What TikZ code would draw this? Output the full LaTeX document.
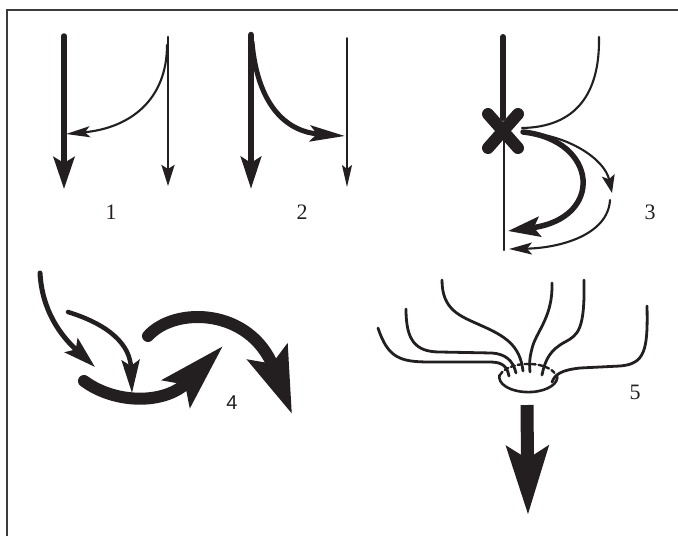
\documentclass[tikz,border=0pt]{standalone}
\usepackage{fontspec}
\setmainfont{Liberation Serif}
\newfontfamily\labsans{Liberation Sans}
\usepackage{tikz}
\usetikzlibrary{arrows.meta,calc}
\definecolor{inkblack}{RGB}{35,31,32}
\definecolor{framegray}{RGB}{60,60,60}

\begin{document}
\begin{tikzpicture}[
    x=1pt, y=-1pt,
    ink/.style={draw=inkblack, line cap=round, >=Stealth},
    lnhair/.style={ink, line width=2.1pt},
    lnmed/.style={ink, line width=2.8pt},
    lnbold/.style={ink, line width=5.5pt},
    lnheavy/.style={ink, line width=12pt},
    digit/.style={font=\fontsize{22}{24}\selectfont, text=inkblack, inner sep=0pt}
]
\useasboundingbox (0,0) rectangle (678,536);

% frame
\coordinate (fbl) at (7,536);
\coordinate (ftl) at (7,10);
\coordinate (ftr) at (678,10);
\draw[draw=framegray, line width=1.5pt] (fbl) -- (ftl) -- (ftr);

% Case 1
\coordinate (a1top) at (64,36);
\coordinate (a1tip) at (64,189);
\coordinate (b1top) at (168,37);
\coordinate (b1tip) at (168,186);
\coordinate (c1start) at (167,45);
\coordinate (c1tip) at (66,134);
\draw[lnbold, -{Stealth[length=32pt, width=21pt, inset=6pt]}] (a1top) -- (a1tip);
\draw[lnmed, -{Stealth[length=21pt, width=13pt, inset=4pt]}] (b1top) -- (b1tip);
\draw[lnhair, -{Stealth[length=24pt, width=11pt, inset=5pt]}] (c1start) .. controls (167,100) and (130,128) .. (c1tip);
\node[digit] (lab1) at (111,212) {1};

% Case 2
\coordinate (a2top) at (251,35);
\coordinate (a2tip) at (251,189);
\coordinate (b2top) at (347,38);
\coordinate (b2tip) at (347,187);
\coordinate (c2start) at (252,42);
\coordinate (c2tip) at (345,136);
\draw[ink, line width=6.5pt, -{Stealth[length=32pt, width=20pt, inset=6pt]}] (a2top) -- (a2tip);
\draw[ink, line width=1.8pt, -{Stealth[length=22pt, width=10pt, inset=4pt]}] (b2top) -- (b2tip);
\draw[lnbold, line width=5pt, -{Stealth[length=35pt, width=16pt, inset=7pt]}] (c2start) .. controls (258,110) and (290,132) .. (c2tip);
\node[digit] (lab2) at (302,212) {2};

% Case 3
\coordinate (a3top) at (503,37);
\coordinate (a3mid) at (503,118);
\coordinate (xc) at (504,131);
\coordinate (a3low) at (504,250);
\coordinate (b3top) at (599,37);
\coordinate (xr) at (522,128);
\coordinate (xr2) at (523,132);
\coordinate (c3tip) at (508,231);
\coordinate (d3tip) at (612,193);
\coordinate (e3start) at (610,200);
\coordinate (e3tip) at (509,249);
\draw[lnbold, line width=6pt] (a3top) -- (a3mid);
\draw[lnhair] (xc) -- (a3low);
\draw[ink, line width=12pt] ($(xc)+(-16,-17)$) -- ($(xc)+(14,17)$);
\draw[ink, line width=12pt] ($(xc)+(-16,17)$) -- ($(xc)+(14,-17)$);
\draw[lnhair] (b3top) .. controls (600,95) and (575,127) .. (xr);
\draw[lnbold, -{Stealth[length=32pt, width=20pt, inset=6pt]}] (xr2) .. controls (598,140) and (605,218) .. (c3tip);
\draw[lnhair, -{Stealth[length=18pt, width=13pt, inset=4pt]}] (xr2) .. controls (570,135) and (605,160) .. (d3tip);
\draw[lnhair, -{Stealth[length=23pt, width=12pt, inset=5pt]}] (e3start) .. controls (608,235) and (560,248) .. (e3tip);
\node[digit] (lab3) at (650,212) {3};

% Case 4
\coordinate (a4start) at (40,273);
\coordinate (a4tip) at (95,367);
\coordinate (b4start) at (68,312);
\coordinate (b4tip) at (132,393);
\coordinate (c4start) at (84,381);
\coordinate (c4tip) at (223,346);
\coordinate (d4start) at (148,336);
\coordinate (d4tip) at (292,414);
\draw[ink, line width=5pt, -{Stealth[length=32pt, width=19pt, inset=6pt]}] (a4start) .. controls (42,310) and (60,335) .. (a4tip);
\draw[ink, line width=4.5pt, -{Stealth[length=33pt, width=18pt, inset=6pt]}] (b4start) .. controls (110,325) and (130,345) .. (b4tip);
\draw[lnheavy, -{Stealth[length=66pt, width=38pt, inset=12pt]}] (c4start) .. controls (115,404) and (165,405) .. (c4tip);
\draw[lnheavy, -{Stealth[length=66pt, width=42pt, inset=12pt]}] (d4start) .. controls (175,306) and (250,308) .. (d4tip);
\node[digit, font=\labsans\fontsize{20}{22}\selectfont] (lab4) at (232,403) {4};

% Case 5
\coordinate (hole) at (528,379);
\draw[lnmed, line width=2.6pt] (hole) ++(29,-4) arc[start angle=-8, end angle=188, x radius=29, y radius=15];
\draw[lnmed, line width=2.4pt, dashed, dash pattern=on 4pt off 3pt] (hole) ++(-28,-4) arc[start angle=195, end angle=345, x radius=29, y radius=15];
\coordinate (f1) at (378,328);
\coordinate (f2) at (406,309);
\coordinate (f3) at (442,280);
\coordinate (f4) at (552,283);
\coordinate (f5) at (584,280);
\coordinate (f6) at (647,306);
\coordinate (g1) at (509,376);
\coordinate (g2) at (516,373);
\coordinate (g3) at (523,371);
\coordinate (g4) at (530,372);
\coordinate (g5) at (542,375);
\coordinate (g6) at (552,382);
\draw[lnmed] (f1) .. controls (388,358) and (400,362) .. (430,362) -- (490,362) .. controls (502,362) and (507,366) .. (g1);
\draw[lnmed] (f2) .. controls (406,340) and (415,352) .. (440,352) -- (492,353) .. controls (505,354) and (513,360) .. (g2);
\draw[lnmed] (f3) .. controls (442,310) and (460,316) .. (480,325) .. controls (505,336) and (520,345) .. (g3);
\draw[lnmed] (f4) .. controls (553,315) and (538,330) .. (533,345) .. controls (530,355) and (529,362) .. (g4);
\draw[lnmed] (f5) .. controls (585,330) and (578,335) .. (565,342) .. controls (550,350) and (545,360) .. (g5);
\draw[lnmed] (f6) .. controls (648,350) and (645,364) .. (620,366) -- (580,368) .. controls (562,370) and (555,374) .. (g6);
\coordinate (s5top) at (527,405);
\coordinate (s5tip) at (528,515);
\draw[ink, line width=13pt, line cap=butt, -{Stealth[length=68pt, width=41pt, inset=12pt]}] (s5top) -- (s5tip);
\node[digit] (lab5) at (635,392) {5};

\end{tikzpicture}
\end{document}
